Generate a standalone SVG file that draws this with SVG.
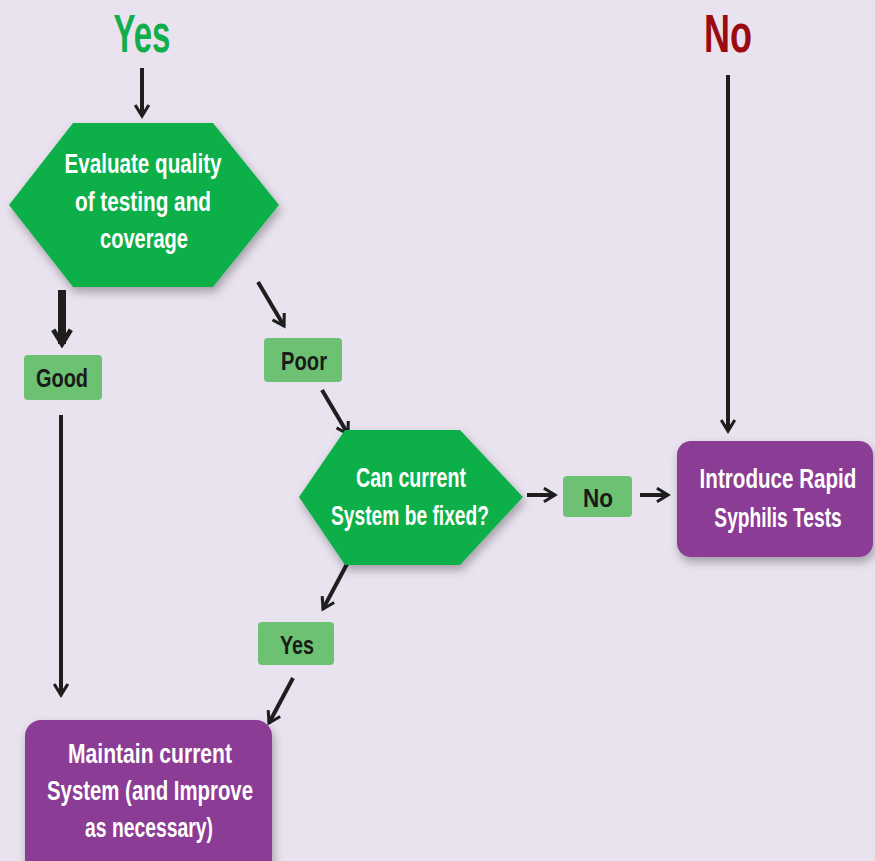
<svg xmlns="http://www.w3.org/2000/svg" width="875" height="861" viewBox="0 0 875 861">
<defs>
<style>
.t{font-family:"Liberation Sans",Arial,sans-serif;font-weight:bold;text-anchor:middle}
.w{fill:#ffffff;font-size:28px}
.k{fill:#1a1a1a;font-size:26px}
.hex{fill:#0DAF4A}
.lab{fill:#6CC272}
.box{fill:#8B3C95}
.c{stroke:#1e1e1e;stroke-width:4;fill:none;marker-end:url(#ah)}
</style>
<marker id="ah" viewBox="0 0 10 10" refX="8" refY="5" markerUnits="userSpaceOnUse" markerWidth="17" markerHeight="17" orient="auto">
<path d="M1.5,1 L8,5 L1.5,9" fill="none" stroke="#1e1e1e" stroke-width="1.8"/>
</marker>
<marker id="ahb" viewBox="0 0 10 10" refX="8" refY="5" markerUnits="userSpaceOnUse" markerWidth="22" markerHeight="22" orient="auto">
<path d="M1.5,1 L8,5 L1.5,9" fill="none" stroke="#1e1e1e" stroke-width="2.2"/>
</marker>
<filter id="sh" x="-20%" y="-20%" width="140%" height="150%">
<feDropShadow dx="2" dy="5" stdDeviation="5" flood-color="#000" flood-opacity="0.3"/>
</filter>
</defs>
<rect width="875" height="861" fill="#E9E2EF"/>

<g id="title-yes"><text class="t" x="142" y="52" font-size="54" fill="#12AD4B" textLength="57" lengthAdjust="spacingAndGlyphs">Yes</text></g>
<g id="title-no"><text class="t" x="728" y="52" font-size="54" fill="#9B0A10" textLength="48" lengthAdjust="spacingAndGlyphs">No</text></g>

<g id="connectors">
<line class="c" x1="142" y1="68" x2="142" y2="116"/>
<path d="M62,290 L62,344" stroke="#1e1e1e" stroke-width="8" fill="none" marker-end="url(#ahb)"/>
<line class="c" x1="61" y1="415" x2="61" y2="695"/>
<line class="c" x1="258" y1="282" x2="284" y2="326"/>
<line class="c" x1="322" y1="390" x2="348" y2="434"/>
<line class="c" x1="527" y1="495" x2="555" y2="495"/>
<line class="c" x1="640" y1="495" x2="668" y2="495"/>
<line class="c" x1="728" y1="75" x2="728" y2="431"/>
<line class="c" x1="347" y1="564" x2="323" y2="609"/>
<line class="c" x1="293" y1="678" x2="269" y2="723"/>
</g>

<g id="n-evaluate">
<polygon class="hex" filter="url(#sh)" points="73,123 213,123 279,205 213,287 73,287 9,205"/>
<text class="t w" x="143" y="173" textLength="157" lengthAdjust="spacingAndGlyphs">Evaluate quality</text>
<text class="t w" x="143" y="211" textLength="136" lengthAdjust="spacingAndGlyphs">of testing and</text>
<text class="t w" x="144" y="248" textLength="88" lengthAdjust="spacingAndGlyphs">coverage</text>
</g>

<g id="n-good">
<rect class="lab" x="24" y="355" width="78" height="45" rx="4"/>
<text class="t k" x="62" y="387" textLength="52" lengthAdjust="spacingAndGlyphs">Good</text>
</g>

<g id="n-poor">
<rect class="lab" x="264" y="338" width="78" height="44" rx="4"/>
<text class="t k" x="304" y="370" textLength="46" lengthAdjust="spacingAndGlyphs">Poor</text>
</g>

<g id="n-fix">
<polygon class="hex" filter="url(#sh)" points="345,430 460,430 523,497 460,565 345,565 299,497"/>
<text class="t w" x="411" y="487" textLength="110" lengthAdjust="spacingAndGlyphs">Can current</text>
<text class="t w" x="410" y="525" textLength="158" lengthAdjust="spacingAndGlyphs">System be fixed?</text>
</g>

<g id="n-no">
<rect class="lab" x="563" y="476" width="69" height="41" rx="4"/>
<text class="t k" x="598" y="507" textLength="30" lengthAdjust="spacingAndGlyphs">No</text>
</g>

<g id="n-rapid">
<rect class="box" filter="url(#sh)" x="677" y="441" width="196" height="116" rx="14"/>
<g transform="translate(778,0) scale(0.67,1)">
<text class="t w" x="0" y="488" textLength="234" lengthAdjust="spacingAndGlyphs">Introduce Rapid</text>
<text class="t w" x="0" y="527" textLength="190" lengthAdjust="spacingAndGlyphs">Syphilis Tests</text>
</g>
</g>

<g id="n-yes">
<rect class="lab" x="258" y="622" width="76" height="43" rx="4"/>
<text class="t k" x="297" y="654" textLength="34" lengthAdjust="spacingAndGlyphs">Yes</text>
</g>

<g id="n-maintain">
<rect class="box" filter="url(#sh)" x="25" y="720" width="247" height="160" rx="16"/>
<text class="t w" x="150" y="763" textLength="164" lengthAdjust="spacingAndGlyphs">Maintain current</text>
<text class="t w" x="150" y="800" textLength="206" lengthAdjust="spacingAndGlyphs">System (and Improve</text>
<text class="t w" x="149" y="837" textLength="128" lengthAdjust="spacingAndGlyphs">as necessary)</text>
</g>
</svg>
